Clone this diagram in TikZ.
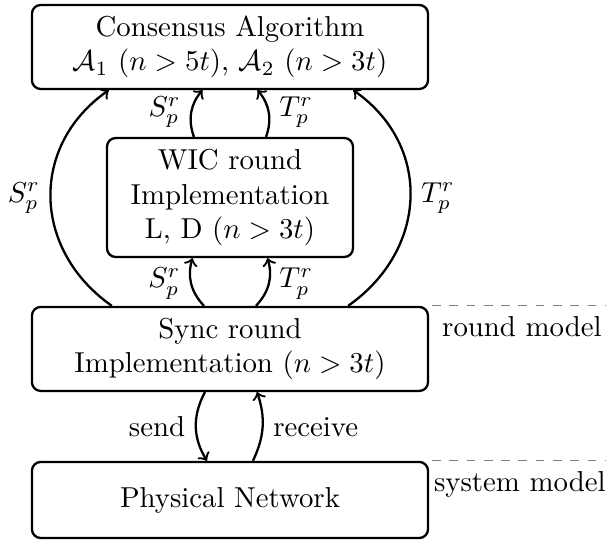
\documentclass[tikz,border=0pt]{standalone}

\begin{document}
\begin{tikzpicture}[
		stackbox/.style={draw, thick, rounded corners=3pt, align=center,
		minimum width=4.83cm, minimum height=1.024cm},
		flow/.style={->, thick},
		modelline/.style={dashed, draw=gray}
	]
		\useasboundingbox (0,0) rectangle (7.391,-6.586);
		\node[stackbox] (cons) at (2.805,-0.573) {Consensus Algorithm\\
		$\mathcal{A}_1$ $(n > 5t)$, $\mathcal{A}_2$ $(n > 3t)$};
		\node[stackbox, minimum width=3cm, minimum height=1.451cm] (wic)
		at (2.805,-2.409) {WIC round\\Implementation\\L, D $(n > 3t)$};
		\node[stackbox] (sync) at (2.805,-4.256) {Sync round\\
		Implementation $(n > 3t)$};
		\node[stackbox, minimum height=0.927cm] (net) at (2.805,-6.098)
		{Physical Network};
		\draw[modelline] ([xshift=1pt]sync.north east) -- ++(2.15,0)
		node[pos=0, below right] {round model};
		\draw[modelline] ([xshift=1pt]net.north east) -- ++(2.15,0)
		node[pos=0, below right, xshift=-0.1cm] {system model};
		\draw[flow] ([xshift=0.988cm]sync.north west) to[out=145, in=-145,
		looseness=1.15] node[midway, left] {$S_p^r$} ([xshift=0.951cm]cons.south west);
		\draw[flow] ([xshift=-0.988cm]sync.north east) to[out=35, in=-35,
		looseness=1.15] node[midway, right] {$T_p^r$} ([xshift=-0.927cm]cons.south east);
		\draw[flow] ([xshift=-0.44cm]wic.north) to[bend left=30]
		node[left] {$S_p^r$} ([xshift=-0.335cm]cons.south);
		\draw[flow] ([xshift=0.44cm]wic.north) to[bend right=30]
		node[right] {$T_p^r$} ([xshift=0.335cm]cons.south);
		\draw[flow] ([xshift=-0.317cm]sync.north) to[bend left=30]
		node[left] {$S_p^r$} ([xshift=-0.457cm]wic.south);
		\draw[flow] ([xshift=0.317cm]sync.north) to[bend right=30]
		node[right] {$T_p^r$} ([xshift=0.457cm]wic.south);
		\draw[flow] ([xshift=-0.305cm]sync.south) to[bend right=30]
		node[left] {send} ([xshift=-0.28cm]net.north);
		\draw[flow] ([xshift=0.28cm]net.north) to[bend right=22]
		node[right] {receive} ([xshift=0.33cm]sync.south);
	\end{tikzpicture}
\end{document}
